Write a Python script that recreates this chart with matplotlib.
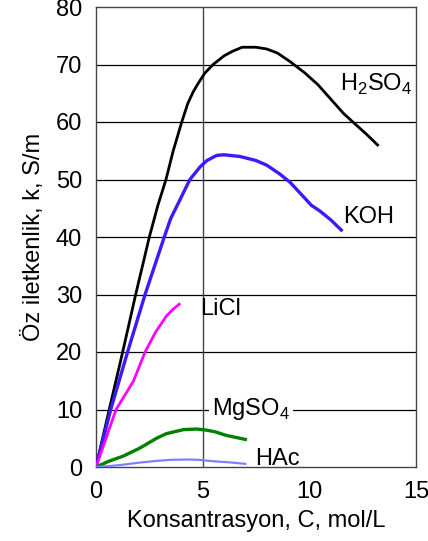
import matplotlib
matplotlib.use("Agg")
import matplotlib.pyplot as plt

plt.rcParams['font.family'] = ['Liberation Sans', 'DejaVu Sans']
plt.rcParams['mathtext.fontset'] = 'custom'
plt.rcParams['mathtext.rm'] = 'Liberation Sans'

h2so4_x = [0, 0.62, 1.25, 1.86, 2.5, 2.9, 3.28, 3.62, 4.02, 4.3, 4.55, 4.77, 5.1, 5.49, 6.0, 6.4, 6.85, 7.5, 8.0, 8.5, 9.1, 9.8, 10.4, 11.0, 11.6, 12.1, 12.7, 13.2]
h2so4_y = [0, 10, 20, 30, 40, 45.5, 50, 55, 60, 63.2, 65.2, 66.6, 68.5, 70, 71.5, 72.3, 73.0, 73, 72.7, 72, 70.5, 68.5, 66.5, 64, 61.5, 59.8, 57.8, 56]

koh_x = [0, 0.69, 1.48, 2.3, 2.75, 3.2, 3.5, 3.9, 4.4, 4.88, 5.2, 5.66, 6.0, 6.75, 7.5, 8.0, 8.6, 9.1, 9.6, 10.1, 10.5, 11.0, 11.5]
koh_y = [0, 10, 20, 30, 35, 40, 43.2, 46.2, 50, 52.2, 53.3, 54.2, 54.3, 54, 53.3, 52.5, 51, 49.5, 47.5, 45.5, 44.5, 43, 41.2]

licl_x = [0, 0.94, 1.75, 2.3, 2.8, 3.31, 3.6, 3.9]
licl_y = [0, 10, 14.9, 20, 23.5, 26.3, 27.4, 28.3]

mgso4_x = [0, 0.6, 1.28, 2.06, 2.84, 3.3, 4.1, 4.72, 5.2, 5.6, 6.1, 7.0]
mgso4_y = [0, 1.0, 1.9, 3.3, 5.0, 5.8, 6.5, 6.6, 6.4, 6.1, 5.5, 4.8]

hac_x = [0, 0.6, 1.27, 2.0, 2.8, 3.5, 4.25, 4.8, 5.5, 6.3, 7.0]
hac_y = [0, 0.15, 0.4, 0.75, 1.05, 1.25, 1.3, 1.25, 1.0, 0.8, 0.55]

x_ticks = [0, 5, 10, 15]
y_ticks = [0, 10, 20, 30, 40, 50, 60, 70, 80]

fig = plt.figure(figsize=(4.28, 5.41), dpi=100)
ax = fig.add_axes([96/428, 1-467/541, 320/428, 460/541])

ax.set_xlim(0, 15)
ax.set_ylim(0, 80)
for yv in y_ticks[1:-1]:
    ax.axhline(yv, color='black', lw=0.9, zorder=1)
ax.axvline(5, color='#444444', lw=1.0, zorder=1)

ax.plot(h2so4_x, h2so4_y, color='black', lw=2.0, zorder=3)
ax.plot(koh_x, koh_y, color='#3a1aff', lw=2.4, zorder=3)
ax.plot(licl_x, licl_y, color='#ff00ff', lw=2.0, zorder=3)
ax.plot(mgso4_x, mgso4_y, color='#008000', lw=2.4, zorder=3)
ax.plot(hac_x, hac_y, color='#8080ff', lw=1.6, zorder=3)

fs = 17
ax.text(11.44, 65.4, 'H$_2$SO$_4$', fontsize=fs, va='baseline', ha='left', zorder=4)
ax.text(11.58, 42.4, 'KOH', fontsize=fs, va='baseline', ha='left', zorder=4)
ax.text(4.88, 26.4, 'LiCl', fontsize=fs, va='baseline', ha='left', zorder=4)
ax.text(5.44, 9.1, 'MgSO$_4$', fontsize=fs, va='baseline', ha='left', zorder=4,
        bbox=dict(facecolor='white', edgecolor='none', pad=2))
ax.text(7.45, 0.3, 'HAc', fontsize=fs, va='baseline', ha='left', zorder=4)

ax.set_xticks(x_ticks)
ax.set_yticks(y_ticks)
ax.tick_params(length=0, labelsize=fs, pad=10)
for s in ax.spines.values():
    s.set_color('#444444')
    s.set_linewidth(1.0)

ax.set_xlabel('Konsantrasyon, C, mol/L', fontsize=fs, labelpad=5)
ax.set_ylabel('Öz iletkenlik, k, S/m', fontsize=fs, labelpad=8)

fig.savefig('out.png', dpi=100)
